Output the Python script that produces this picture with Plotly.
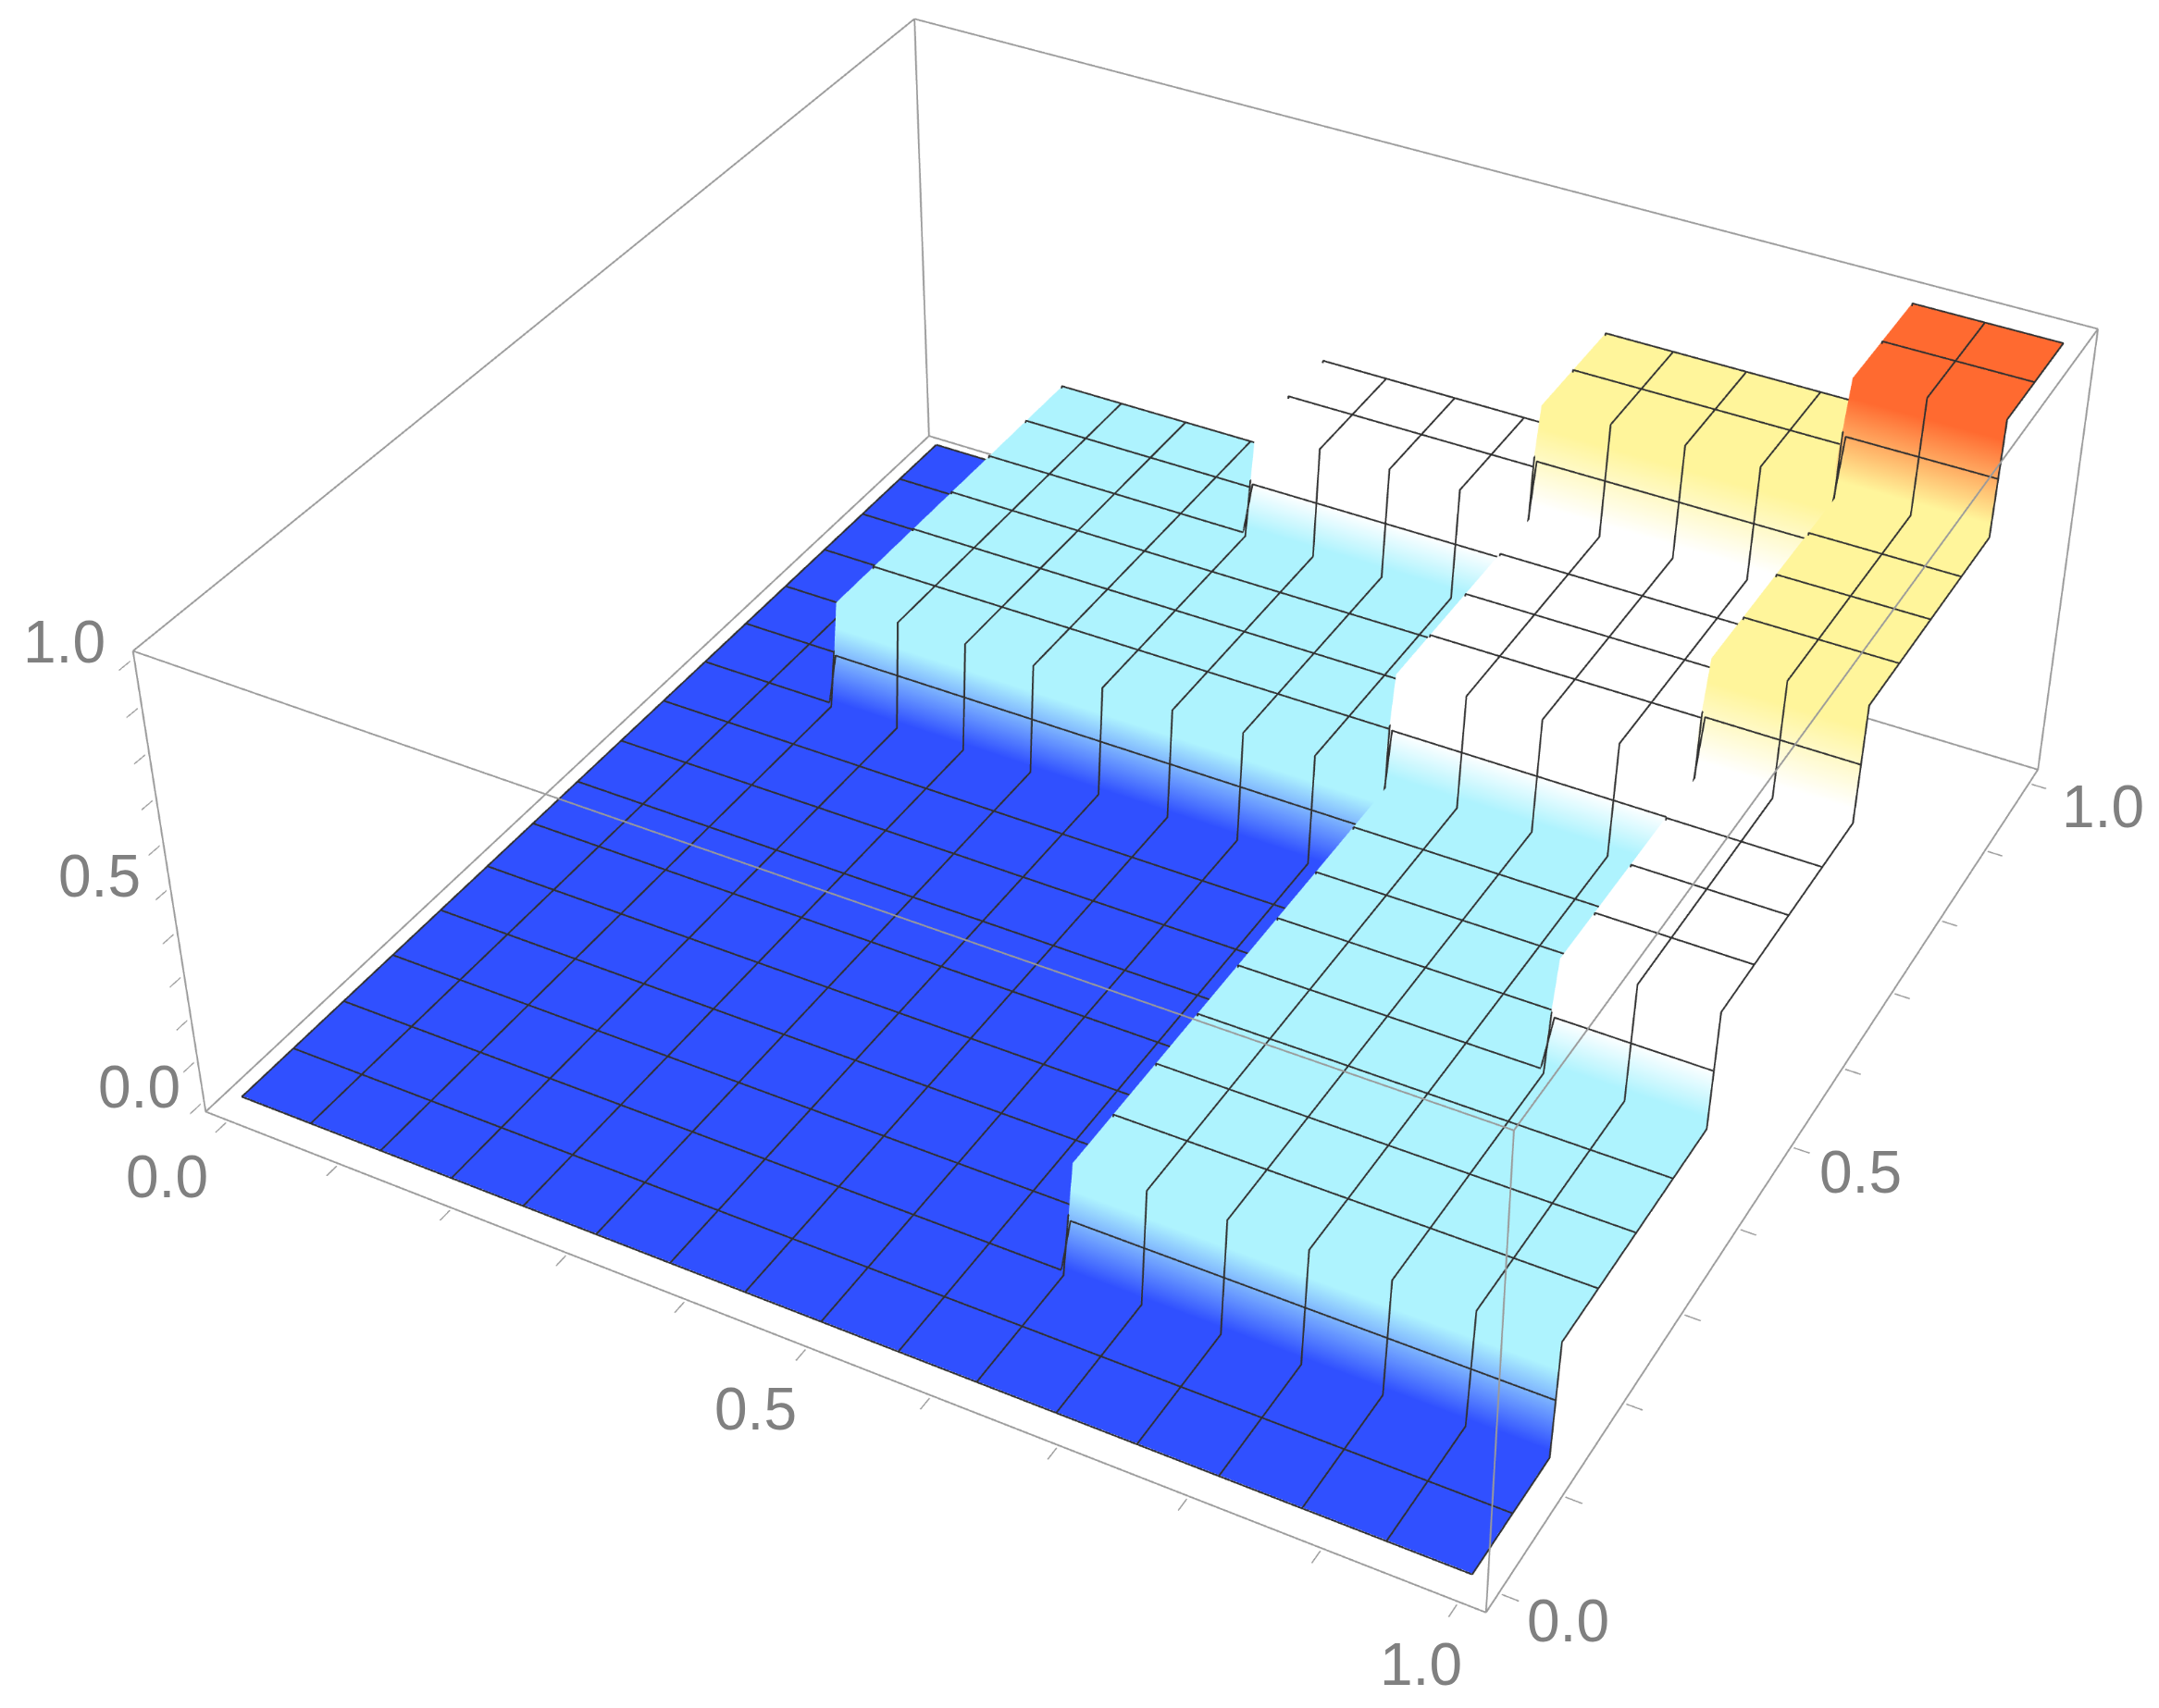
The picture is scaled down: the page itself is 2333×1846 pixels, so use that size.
import numpy as np
import plotly.graph_objects as go

# block boundaries in x and y (sixteenths of the unit interval)
breaks = [2/16, 6/16, 10/16, 14/16]
# surface height per block: rows = y blocks, columns = x blocks
levels = [
    [0.00, 0.00, 0.00, 0.00, 0.00],
    [0.00, 0.00, 0.00, 0.25, 0.25],
    [0.00, 0.00, 0.00, 0.25, 0.50],
    [0.00, 0.25, 0.25, 0.50, 0.75],
    [0.00, 0.25, 0.50, 0.75, 1.00],
]
mesh_lines = [k / 16 for k in range(17)]
tick_vals = [0.0, 0.1, 0.2, 0.3, 0.4, 0.5, 0.6, 0.7, 0.8, 0.9, 1.0]
label_vals = [0.0, 0.5, 1.0]
label_text = ["0.0", "0.5", "1.0"]
box_lo, box_hi = -0.02, 1.02

colorscale = [
    [0.00, "#3050FF"], [0.01, "#3050FF"], [0.19, "#AEF3FE"], [0.27, "#AEF3FE"],
    [0.375, "#FFFFFF"], [0.53, "#FFFFFF"],
    [0.70, "#FFF59B"], [0.78, "#FFF59B"], [0.96, "#FF6A30"], [1.00, "#FF6A30"],
]

half_wall = 0.004
grid = [0.0]
index = [0]
for i, b in enumerate(breaks):
    grid += [b - half_wall, b + half_wall]
    index += [i, i + 1]
grid.append(1.0)
index.append(len(breaks))
grid = np.array(grid)
Z = np.array(levels)[np.ix_(index, index)]

fig = go.Figure()
fig.add_trace(go.Surface(
    x=grid, y=grid, z=Z, surfacecolor=Z, cmin=0, cmax=1,
    colorscale=colorscale, showscale=False, hoverinfo="skip",
    lighting=dict(ambient=1, diffuse=0, specular=0, fresnel=0, roughness=1),
    contours=dict(x=dict(highlight=False), y=dict(highlight=False), z=dict(highlight=False)),
))

# mesh lines follow the surface; lifted a hair toward the viewer so they stay visible
lift_x, lift_y, lift_z = 0.0015, -0.003, 0.006
mesh = "#303030"
def along_x(m):   # line of constant y = m
    return np.array([np.interp(m, grid, Z[:, j]) for j in range(len(grid))])
def along_y(m):   # line of constant x = m
    return np.array([np.interp(m, grid, Z[i, :]) for i in range(len(grid))])
for m in mesh_lines:
    n = len(grid)
    fig.add_trace(go.Scatter3d(x=grid + lift_x, y=np.full(n, m) + lift_y, z=along_x(m) + lift_z,
                               mode="lines", line=dict(color=mesh, width=2.5),
                               hoverinfo="skip", showlegend=False))
    fig.add_trace(go.Scatter3d(x=np.full(n, m) + lift_x, y=grid + lift_y, z=along_y(m) + lift_z,
                               mode="lines", line=dict(color=mesh, width=2.5),
                               hoverinfo="skip", showlegend=False))

lo, hi = box_lo, box_hi
edges = [
    ([lo, hi], [lo, lo], [lo, lo]), ([lo, hi], [hi, hi], [lo, lo]),
    ([lo, hi], [lo, lo], [hi, hi]), ([lo, hi], [hi, hi], [hi, hi]),
    ([lo, lo], [lo, hi], [lo, lo]), ([hi, hi], [lo, hi], [lo, lo]),
    ([lo, lo], [lo, hi], [hi, hi]), ([hi, hi], [lo, hi], [hi, hi]),
    ([lo, lo], [lo, lo], [lo, hi]), ([hi, hi], [lo, lo], [lo, hi]),
    ([lo, lo], [hi, hi], [lo, hi]), ([hi, hi], [hi, hi], [lo, hi]),
]
for ex, ey, ez in edges:
    fig.add_trace(go.Scatter3d(x=ex, y=ey, z=ez, mode="lines",
                               line=dict(color="#9a9a9a", width=2.5),
                               hoverinfo="skip", showlegend=False))

pad = 0.002
axis = dict(
    range=[lo - pad, hi + pad], autorange=False, title=dict(text=""),
    tickmode="array", tickvals=tick_vals, showticklabels=False,
    showgrid=False, zeroline=False, showbackground=False, showspikes=False,
    showline=False, ticks="inside", ticklen=10, tickwidth=2, tickcolor="#9a9a9a",
)

font = dict(family="Liberation Sans", size=64, color="#808080")
def label(x, y, z, text, dx, dy):
    return dict(x=x, y=y, z=z, text=text, showarrow=False, font=font,
                xanchor="center", yanchor="middle", xshift=dx, yshift=-dy)

annotations = []
z_shift = [(-70, -18), (-77, -15), (-76, -20)]
x_shift = [(-65, 61), (-55, 67), (-40, 68)]
y_shift = [(75, 31), (75, 28), (80, 26)]
for v, t, zs, xs, ys in zip(label_vals, label_text, z_shift, x_shift, y_shift):
    annotations.append(label(lo, lo, v, t, *zs))
    annotations.append(label(v, lo, lo, t, *xs))
    annotations.append(label(hi, v, lo, t, *ys))

S = 4244
cx, cy = 1258, 773
fig.update_layout(
    width=S, height=S, margin=dict(l=0, r=0, t=0, b=0),
    paper_bgcolor="white", showlegend=False,
    scene=dict(
        xaxis=axis, yaxis=axis, zaxis=axis,
        aspectmode="manual", aspectratio=dict(x=1, y=1, z=0.4),
        camera=dict(eye=dict(x=1.3, y=-2.4, z=2.0), center=dict(x=0, y=0, z=0),
                    up=dict(x=0, y=0, z=1)),
        domain=dict(x=[0, 1], y=[0, 1]),
        annotations=annotations,
    ),
)
post = ("document.documentElement.style.overflow='hidden';document.body.style.overflow='hidden';"
        "var g=document.getElementById('{plot_id}');g.style.position='fixed';"
        f"g.style.left='{cx - S/2}px';g.style.top='{cy - S/2}px';")
fig.write_html("out.html", post_script=post)
